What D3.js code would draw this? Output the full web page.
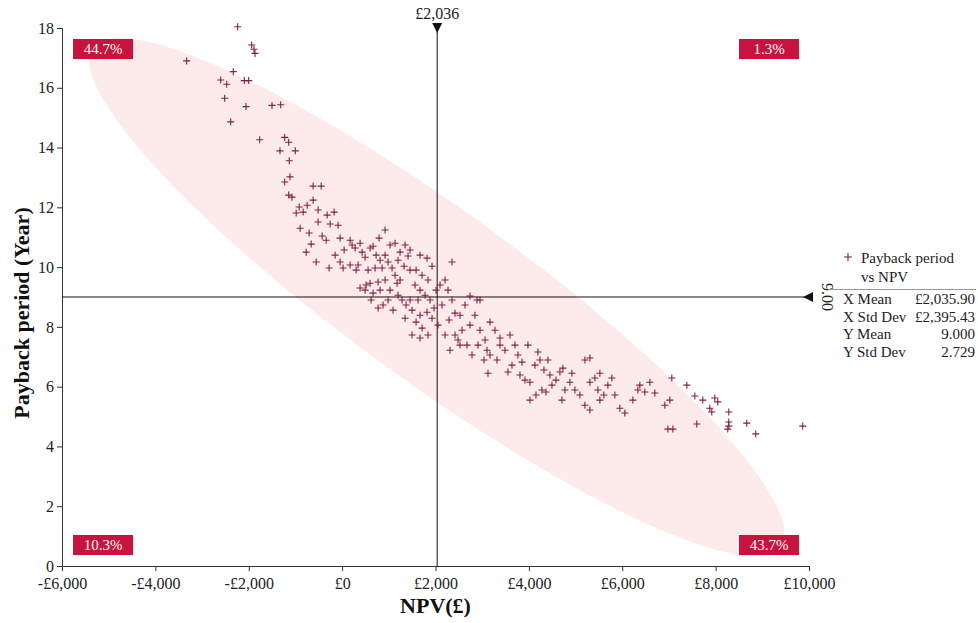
<!DOCTYPE html>
<html>
<head>
<meta charset="utf-8">
<style>
  body { margin: 0; background: #fff; }
  svg text { font-family: "Liberation Serif", "DejaVu Serif", serif; }
</style>
</head>
<body>
<svg id="chart" width="978" height="623"></svg>
<script src="https://cdn.jsdelivr.net/npm/d3@7"></script>
<script>
// NPV (£) and payback period (years), grouped left to right
var npv = [
  -2237,-1937,-1888,-1866,-3329,-2331,-2601,-2472,-2095,-2001,-2515,-2059,-1502,-1316,-2387,-1766,-1230,-1144,-1331,-1003,-1132,-1117,-1230,-1144,-1074,
  -920,-835,-621,-449,-621,-749,-514,-899,-984,-706,-428,-514,-321,-257,-171,-86,-342,-43,43,-150,171,21,-43,-278,-556,-663,-770,
  214,278,385,428,492, 342,171,300,599,663, 728,813,920,984,1070, 556,706,856,1134,920, 770,599,492,385,663, 813,1027,1177,1198,984, 877,770,1091,621,514, 920,792,1134,1348,1412, 1241,1027,1198,1327,1455, 1241,1284,1370,
  1455,1669,1819,1926,1584, 1712,1840,1562,1669,1776, 1883,1626,1498,1669,1819, 1926,1712,1840,2054,1969, 2012,2097,1584,1498,1669, 1348,1455,
  2204,2268,2354,2418,2140, 2290,2525,2632,2739,2739, 2568,2418,2846,2953,2953, 3060,3167,3274,3103,2910, 2782,2675,2482,2311,3381, 3488,3167,3317,3039,2354, 2889,2525,2204,3124,3381,
  3595,3702,3766,3852,3638, 3552,3809,3916,4023,4130, 4237,4323,4451,3980,4194, 4408,4494,4280,4152,4023, 4366,4580,4665,4729,4772, 4708,
  4879,4986,5093,5200,5307, 5414,5478,5200,5307,5521, 5606,5692,5778,5842,5949, 6056,6227,6334,6377,5521, 4922,5307,
  6484,6591,6698,6912,7019, 7062,7383,7554,7725,7982, 8046,7875,
  6977,7084,7597,8282,8282, 8260,8667,8860,9866,7918, 8282
];
var payback = [
  18.04,17.43,17.29,17.15,16.90,16.54,16.26,16.12,16.24,16.24,15.65,15.37,15.41,15.43,14.86,14.26,14.34,14.18,13.89,13.89,13.56,13.02,12.85,12.41,12.34,
  12.01,11.84,12.71,12.71,12.24,12.07,11.91,11.30,11.81,11.14,11.04,11.51,11.74,11.44,11.84,11.40,10.90,10.97,10.57,10.40,10.90,9.97,10.17,9.97,10.17,10.77,10.50,
  10.74,10.64,10.80,10.50,10.33, 10.07,10.07,9.90,10.64,10.70, 10.40,10.23,10.40,10.17,9.97, 9.90,9.97,9.97,9.73,9.57, 9.50,9.46,9.23,9.30,9.13, 9.23,9.23,9.46,9.06,8.90, 8.73,8.63,8.56,8.90,9.40, 11.24,10.97,10.80,10.74,10.37, 10.50,10.74,10.23,10.03,9.90, 9.57,8.90,8.73,
  10.57,10.40,10.30,10.03,9.90, 9.73,9.57,9.40,9.23,9.06, 8.90,8.90,8.56,8.39,8.49, 8.29,7.96,7.73,8.06,8.63, 9.23,9.40,8.16,7.73,7.63, 8.29,8.90,
  9.57,9.23,8.90,8.46,8.73, 8.23,8.39,8.73,9.03,8.06, 7.89,7.73,8.39,8.90,7.89, 7.56,8.16,7.89,7.22,7.39, 7.06,7.39,7.56,7.22,7.63, 7.22,7.06,6.89,6.89,10.17, 8.90,7.39,7.73,6.45,7.39,
  7.73,7.39,7.06,6.82,6.72, 6.49,6.39,6.22,6.15,6.72, 6.89,6.56,6.39,7.39,7.16, 6.89,6.05,5.89,5.72,5.55, 5.82,6.22,6.49,6.62,5.89, 5.55,
  6.15,5.89,5.72,6.89,6.96, 6.29,5.89,5.38,5.22,5.55, 5.72,6.05,6.29,5.72,5.28, 5.12,5.55,5.89,6.05,6.45, 6.45,6.15,
  5.82,6.15,5.79,5.38,5.55, 6.29,6.05,5.69,5.55,5.62, 5.49,5.28,
  4.58,4.58,4.75,4.82,4.68, 4.58,4.78,4.42,4.68,5.15, 5.15
];

var xTicks = [-6000, -4000, -2000, 0, 2000, 4000, 6000, 8000, 10000];
var yTicks = [0, 2, 4, 6, 8, 10, 12, 14, 16, 18];

var xMean = 2035.90, yMean = 9.000;
var statLabels = ["X Mean", "X Std Dev", "Y Mean", "Y Std Dev"];
var statValues = ["£2,035.90", "£2,395.43", "9.000", "2.729"];
var legendLines = ["Payback period", "vs NPV"];

// quadrant shares: top-left, top-right, bottom-left, bottom-right
var quadLabels = ["44.7%", "1.3%", "10.3%", "43.7%"];

// ellipse drawn behind the cloud: its two tips (data units)
var ellipseTips = [[-5340, 17.35], [9400, 0.65]];

var red = "#c8133f", mark = "#7d2242", ink = "#222";

var svg = d3.select("#chart");
var x = d3.scaleLinear().domain([-6000, 10000]).range([62, 809]);
var y = d3.scaleLinear().domain([0, 18]).range([566, 28]);

var money = function (v) {
  return (v < 0 ? "-£" : "£") + d3.format(",")(Math.abs(v));
};

// ellipse
var p1 = [x(ellipseTips[0][0]), y(ellipseTips[0][1])];
var p2 = [x(ellipseTips[1][0]), y(ellipseTips[1][1])];
var cx = (p1[0] + p2[0]) / 2, cy = (p1[1] + p2[1]) / 2;
var semiMajor = Math.hypot(p2[0] - p1[0], p2[1] - p1[1]) / 2;
var angle = Math.atan2(p2[1] - p1[1], p2[0] - p1[0]) * 180 / Math.PI;
svg.append("ellipse")
  .attr("cx", cx).attr("cy", cy)
  .attr("rx", semiMajor).attr("ry", 86)
  .attr("transform", "rotate(" + angle + "," + cx + "," + cy + ")")
  .attr("fill", "#fdeaea");

// axes
var xAxis = svg.append("g").attr("transform", "translate(0,566)")
  .call(d3.axisBottom(x).tickValues(xTicks).tickFormat(money).tickSizeOuter(0).tickSize(5));
var yAxis = svg.append("g").attr("transform", "translate(62,0)")
  .call(d3.axisLeft(y).tickValues(yTicks).tickFormat(d3.format("d")).tickSizeOuter(0).tickSize(5));
[xAxis, yAxis].forEach(function (g) {
  g.select(".domain").attr("stroke", "#333");
  g.selectAll(".tick line").attr("stroke", "#333");
  g.selectAll(".tick text").attr("fill", ink).style("font-size", "16px")
    .style("font-family", "'Liberation Serif', serif");
});
xAxis.selectAll(".tick text").attr("dy", "0.95em");
yAxis.selectAll(".tick text").attr("x", -8);

// mean lines
svg.append("line").attr("x1", x(xMean)).attr("x2", x(xMean)).attr("y1", y(18)).attr("y2", y(0))
  .attr("stroke", "#111").attr("stroke-width", 1);
svg.append("line").attr("x1", x(-6000)).attr("x2", x(10000)).attr("y1", y(yMean)).attr("y2", y(yMean))
  .attr("stroke", "#111").attr("stroke-width", 1);
svg.append("path")
  .attr("d", "M" + (x(xMean) - 5) + "," + (y(18) - 5) + "h10l-5,10z").attr("fill", "#111");
svg.append("path")
  .attr("d", "M" + (x(10000) + 4) + "," + (y(yMean) - 5) + "v10l-10,-5z").attr("fill", "#111");
svg.append("text").attr("x", x(xMean)).attr("y", 19).attr("text-anchor", "middle")
  .style("font-size", "16px").attr("fill", ink).text("£" + d3.format(",.0f")(xMean));
svg.append("text").attr("transform", "translate(822," + y(yMean) + ") rotate(90)")
  .attr("text-anchor", "middle").style("font-size", "16px").attr("fill", ink)
  .text(d3.format(".2f")(yMean));

// points
svg.append("g").selectAll("path").data(npv).join("path")
  .attr("transform", function (d, i) { return "translate(" + x(d) + "," + y(payback[i]) + ")"; })
  .attr("d", "M-3.5,0H3.5M0,-3.5V3.5")
  .attr("stroke", mark).attr("stroke-width", 1.1).attr("fill", "none");

// quadrant boxes
var quad = [
  { t: quadLabels[0], bx: 73, by: 39 },
  { t: quadLabels[1], bx: 739, by: 39 },
  { t: quadLabels[2], bx: 73, by: 535 },
  { t: quadLabels[3], bx: 739, by: 535 }
];
var qg = svg.append("g").selectAll("g").data(quad).join("g")
  .attr("transform", function (d) { return "translate(" + d.bx + "," + d.by + ")"; });
qg.append("rect").attr("width", 60).attr("height", 20).attr("fill", red);
qg.append("text").attr("x", 30).attr("y", 15).attr("text-anchor", "middle")
  .attr("fill", "#fff").style("font-size", "15px").text(function (d) { return d.t; });

// axis titles
svg.append("text").attr("x", x(2000)).attr("y", 613).attr("text-anchor", "middle")
  .style("font-size", "22px").style("font-weight", "bold").attr("fill", "#111").text("NPV(£)");
svg.append("text").attr("transform", "translate(29,313) rotate(-90)").attr("text-anchor", "middle")
  .style("font-size", "22px").style("font-weight", "bold").attr("fill", "#111")
  .text("Payback period (Year)");

// legend
var lg = svg.append("g");
lg.append("path").attr("d", "M844,257H852M848,253V261").attr("stroke", mark).attr("stroke-width", 1.1);
lg.selectAll("text.l").data(legendLines).join("text").attr("class", "l")
  .attr("x", 861).attr("y", function (d, i) { return 263 + i * 19; })
  .style("font-size", "15px").attr("fill", ink).text(function (d) { return d; });
lg.append("line").attr("x1", 828).attr("x2", 976).attr("y1", 289.5).attr("y2", 289.5)
  .attr("stroke", "#999");
lg.selectAll("text.s").data(statLabels).join("text").attr("class", "s")
  .attr("x", 843).attr("y", function (d, i) { return 304 + i * 17.5; })
  .style("font-size", "15px").attr("fill", ink).text(function (d) { return d; });
lg.selectAll("text.v").data(statValues).join("text").attr("class", "v")
  .attr("x", 975).attr("y", function (d, i) { return 304 + i * 17.5; }).attr("text-anchor", "end")
  .style("font-size", "15px").attr("fill", ink).text(function (d) { return d; });
</script>
</body>
</html>
